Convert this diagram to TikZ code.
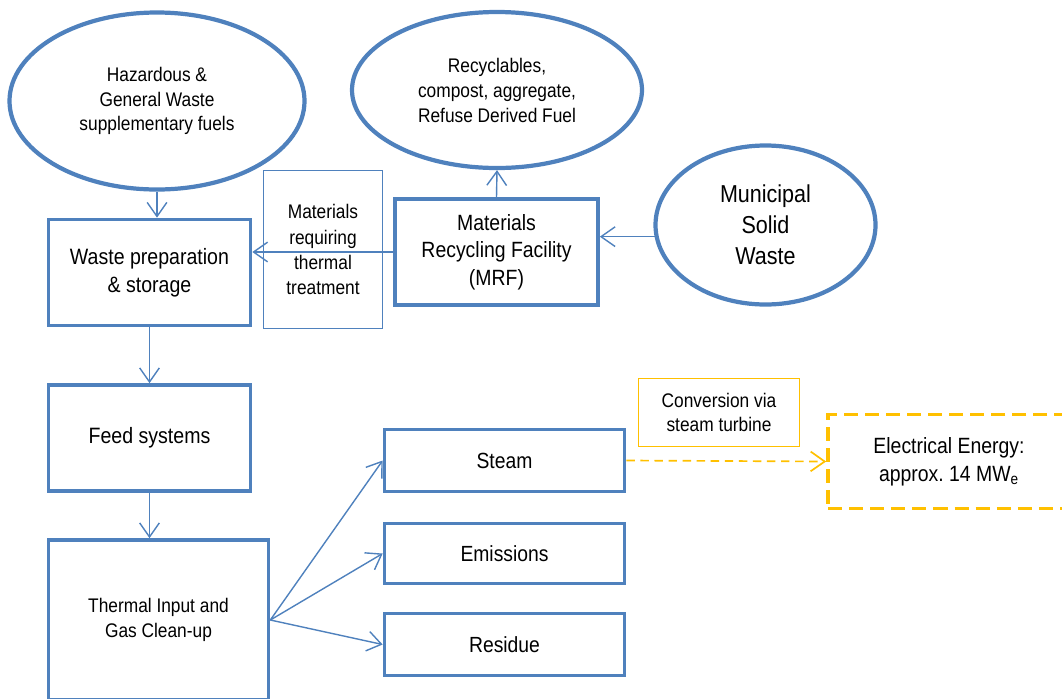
\documentclass[tikz,border=0pt]{standalone}
\usepackage{fontspec}
\setmainfont{Liberation Sans}[FakeStretch=0.88]
\usetikzlibrary{arrows.meta,shapes.geometric,positioning,calc}
\definecolor{myblue}{RGB}{79,129,189}
\definecolor{myyellow}{RGB}{255,192,0}
\newcommand{\fs}[2]{\fontsize{#1pt}{#2pt}\selectfont}

\begin{document}
\begin{tikzpicture}[x=0.025cm,y=-0.025cm,
  boxsize/.style 2 args={minimum width=#1*0.025cm,minimum height=#2*0.025cm},
  oval/.style={ellipse,draw=myblue,line width=3pt,align=center,inner sep=0pt},
  bbox/.style={rectangle,draw=myblue,line width=2.6pt,align=center,inner sep=0pt},
  tbox/.style={rectangle,draw=myblue,line width=0.8pt,align=center,inner sep=0pt},
  arrow/.style={-{Straight Barb[length=10pt,width=14pt]},myblue,line width=1pt}]
\useasboundingbox (0,0) rectangle (1062,698);
% sources and outputs
\node[oval,boxsize={295}{177},font=\fs{14}{17.4}] (hz) at (157,101) {Hazardous \&\\General Waste\\supplementary fuels};
\node[oval,boxsize={290}{156},font=\fs{14}{17.8}] (rec) at (497,90) {Recyclables,\\compost, aggregate,\\Refuse Derived Fuel};
\node[oval,boxsize={220}{159},font=\fs{17.4}{22}] (msw) at (765.5,225) {Municipal\\Solid\\Waste};
% main chain
\node[bbox,boxsize={202}{106},font=\fs{15.8}{19.9}] (prep) at (149.5,272.5) {Waste preparation\\\& storage};
\node[tbox,boxsize={119}{158},font=\fs{14}{17.8}] (matl) at (323,249.5) {Materials\\requiring\\thermal\\treatment};
\node[bbox,boxsize={203}{106},font=\fs{15.7}{19.5}] (mrf) at (496.5,252) {Materials\\Recycling Facility\\(MRF)};
\node[bbox,boxsize={202}{106},font=\fs{15.8}{19.9}] (feed) at (149.5,438) {Feed systems};
\node[bbox,boxsize={220}{160},font=\fs{14}{17.8}] (therm) at (158.5,620) {Thermal Input and\\Gas Clean-up};
\node[bbox,boxsize={240}{62},font=\fs{15.6}{19.5}] (steam) at (504.5,460.5) {Steam};
\node[bbox,boxsize={240}{60},font=\fs{15.6}{19.5}] (emis) at (504.5,553.5) {Emissions};
\node[bbox,boxsize={240}{62},font=\fs{15.6}{19.5}] (resid) at (504.5,644.5) {Residue};
% energy
\node[rectangle,draw=myyellow,line width=0.8pt,align=center,inner sep=0pt,boxsize={161}{68},font=\fs{14}{16.6}] (conv) at (719,412.5) {Conversion via\\steam turbine};
\node[rectangle,draw=myyellow,line width=2.6pt,dash pattern=on 10pt off 5pt,align=center,inner sep=0pt,boxsize={242}{94},font=\fs{15.7}{20}] (elec) at (949,461.5) {Electrical Energy:\\approx.\ 14 MW\textsubscript{e}};
\draw[arrow] (hz.south) -- (hz.south |- prep.north);
\draw[arrow] (msw.186) -- (msw.186 -| mrf.east);
\draw[arrow] (mrf.north) -- (rec.south);
\draw[arrow] (mrf.west) -- (mrf.west -| prep.east);
\draw[arrow] (prep.south) -- (feed.north);
\draw[arrow] (feed.south) -- (feed.south |- therm.north);
\draw[arrow] (therm.east) -- (steam.west);
\draw[arrow] (therm.east) -- (emis.west);
\draw[arrow] (therm.east) -- (resid.west);
\draw[arrow,myyellow,line width=1.2pt,dash pattern=on 6pt off 4pt] (steam.east) -- (elec.west);
\end{tikzpicture}
\end{document}
